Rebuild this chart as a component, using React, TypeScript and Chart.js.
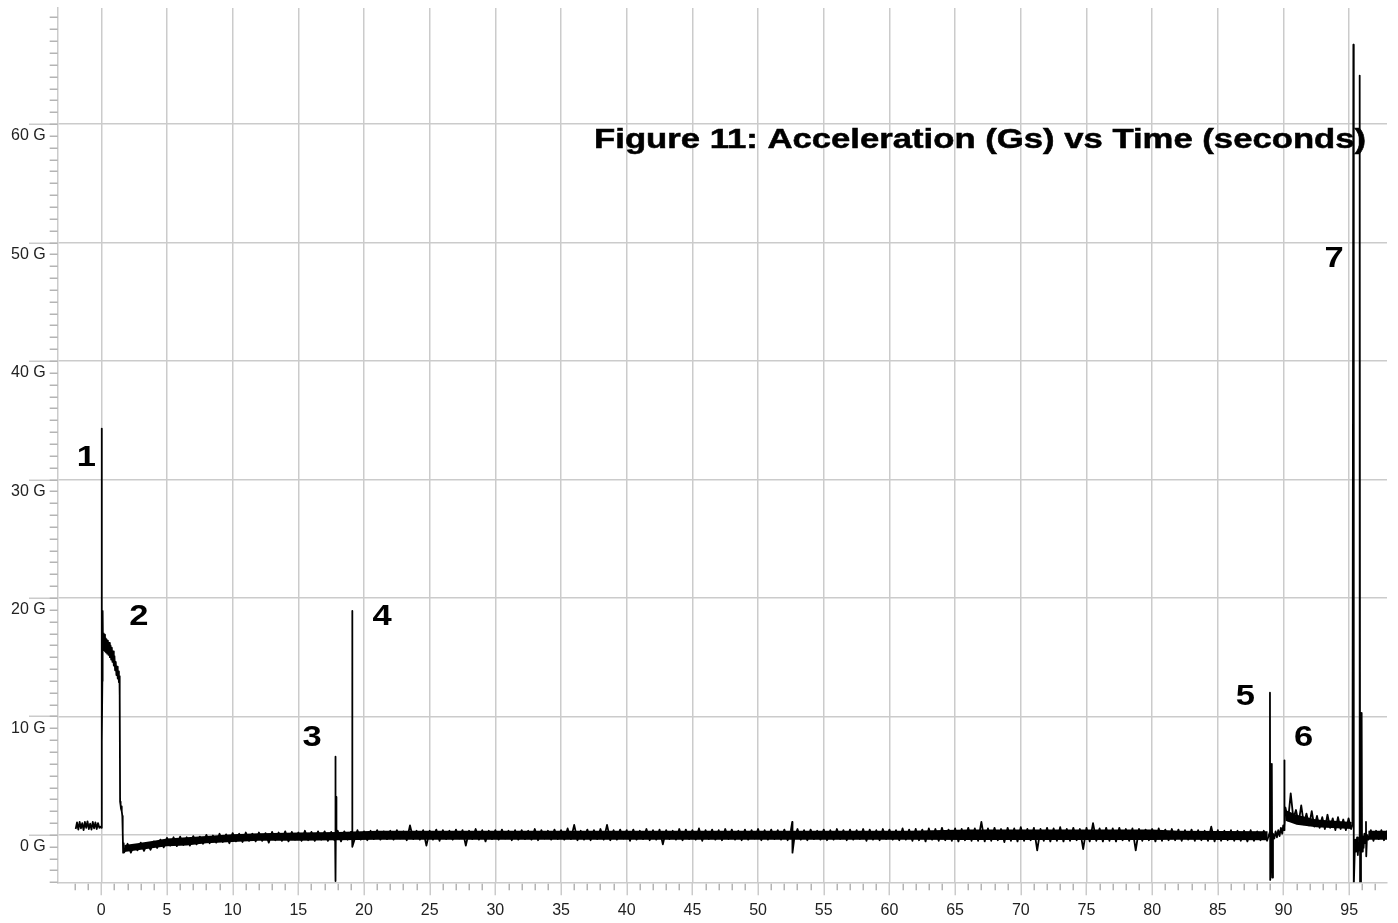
import React, { useEffect, useRef } from 'react';
import { Chart, registerables } from 'chart.js';

Chart.register(...registerables);

const FONT = "'Liberation Sans', Arial, Helvetica, sans-serif";
const GRID_COLOR = '#cbcbcb';
const TICK_COLOR = '#b4b4b4';
const LABEL_COLOR = '#222222';

// ---- axes -------------------------------------------------------------
const X_MIN = -3.32;
const X_MAX = 97.88;
const Y_MIN = -3.0;
const Y_MAX = 70.8;
const X_LABEL_STEP = 5;
const Y_LABEL_STEP = 10;
const Y_LABEL_MAX = 60;
const X_MINOR_FROM = -2;

// ---- data (time in seconds, acceleration in G) -------------------------
// pad, before launch (sampled every 0.1 s from -1.95 s)
const preLaunchStart = -1.95;
const preLaunchStep = 0.1;
const preLaunchG = [
  1.5, 2.05, 1.45, 2.1, 1.55, 2.0, 1.4, 2.1, 1.6, 2.15,
  1.5, 1.95, 1.45, 2.1, 1.55, 2.05, 1.5, 2.0, 1.6, 1.7,
];

// launch spike (1) and motor burn (2)
const burnT = [
  0.0, 0.02, 0.05, 0.08, 0.1, 0.13, 0.16, 0.2, 0.24, 0.28,
  0.32, 0.36, 0.4, 0.45, 0.5, 0.55, 0.6, 0.65, 0.7, 0.75,
  0.8, 0.85, 0.9, 0.95, 1.0, 1.05, 1.1, 1.15, 1.2, 1.25,
  1.3, 1.34, 1.38, 1.4, 1.43, 1.47, 1.5, 1.54, 1.57, 1.6,
  1.63, 1.66, 1.7,
];
const burnG = [
  1.6, 35.3, 8.9, 14.0, 19.9, 16.6, 18.0, 16.8, 17.9, 16.5,
  17.6, 16.4, 17.5, 16.3, 17.4, 16.2, 17.2, 16.0, 17.0, 15.8,
  16.8, 15.6, 16.5, 15.3, 16.1, 14.9, 15.6, 14.5, 15.2, 14.2,
  14.8, 13.9, 14.4, 12.8, 3.8, 3.5, 3.2, 3.4, 3.0, 2.6,
  1.2, -0.5, 0.3,
];

// coast and descent (sampled every 0.25 s from 1.75 s)
const coastStart = 1.75;
const coastStep = 0.25;
const coastG = [
  -0.45, 0.25, -0.5, 0.15, -0.3, 0.35, -0.35, 0.3, -0.25, 0.45, -0.1, 0.6, -0.05, 0.75, 0.1, 0.8, 0.05, 0.85, 0.15, 0.8,
  0.1, 0.9, 0.2, 0.85, 0.25, 1.0, 0.3, 0.95, 0.35, 1.1, 0.4, 1.05, 0.3, 1.15, 0.45, 1.1, 0.4, 1.2, 0.5, 1.1,
  0.45, 1.2, 0.5, 1.15, 0.35, 1.25, 0.55, 1.2, 0.5, 1.3, 0.45, 1.25, 0.6, 1.2, 0.5, 1.35, 0.55, 1.25, 0.5, 1.3,
  0.6, 1.3, 0.5, 1.25, 0.55, 1.35, 0.45, 1.3, 0.6, 1.25, 0.5, 1.4, 0.6, 1.3, 0.55, 1.35, 0.65, 1.4, 0.6, 1.3,
  0.65, 1.35, 0.6, 1.4, 0.7, 1.3, 0.55, 1.8, 0.65, 1.35, 0.6, 1.4, 0.1, 1.35, 0.6, 1.45, 0.5, 1.4, 0.65, 1.35,
  0.6, 1.45, 0.7, 1.4, 0.1, 1.35, 0.65, 1.5, 0.6, 1.4, 0.45, 1.35, 0.65, 1.4, 0.6, 1.45, 0.7, 1.35, 0.55, 1.4,
  0.6, 1.4, 0.65, 1.35, 0.6, 1.5, 0.55, 1.4, 0.7, 1.35, 0.6, 1.45, 0.65, 1.4, 0.6, 1.55, 0.65, 1.85, 0.55, 1.35,
  0.6, 1.45, 0.55, 1.4, 0.65, 1.5, 0.6, 1.85, 0.55, 1.4, 0.6, 1.45, 0.7, 1.4, 0.5, 1.45, 0.6, 1.35, 0.65, 1.5,
  0.55, 1.4, 0.6, 1.45, 0.2, 1.4, 0.65, 1.35, 0.6, 1.5, 0.55, 1.45, 0.65, 1.4, 0.6, 1.55, 0.5, 1.4, 0.65, 1.45,
  0.6, 1.4, 0.55, 1.5, 0.65, 1.45, 0.6, 1.35, 0.55, 1.45, 0.6, 1.4, 0.7, 1.5, 0.55, 1.4, 0.6, 1.45, 0.65, 1.4,
  0.6, 1.45, 0.55, 1.4, 0.65, 1.5, 0.6, 1.4, 0.55, 1.45, 0.65, 1.35, 0.6, 1.45, 0.55, 1.4, 0.6, 1.5, 0.65, 1.4,
  0.55, 1.45, 0.6, 1.4, 0.65, 1.5, 0.5, 1.45, 0.6, 1.4, 0.55, 1.5, 0.65, 1.45, 0.6, 1.4, 0.55, 1.55, 0.6, 1.45,
  0.5, 1.5, 0.55, 1.45, 0.45, 1.55, 0.6, 1.5, 0.5, 1.6, 0.55, 1.45, 0.5, 1.55, 0.45, 1.5, 0.55, 1.6, 0.5, 1.55,
  0.5, 2.1, 0.45, 1.55, 0.5, 1.6, 0.55, 1.5, 0.4, 1.6, 0.5, 1.55, 0.45, 1.65, 0.5, 1.5, 0.55, 1.6, -0.3, 1.5,
  0.5, 1.6, 0.45, 1.55, 0.5, 1.65, 0.45, 1.5, 0.5, 1.6, 0.55, 1.5, -0.2, 1.6, 0.45, 2.0, 0.5, 1.55, 0.45, 1.6,
  0.5, 1.55, 0.45, 1.6, 0.55, 1.5, 0.5, 1.55, -0.3, 1.5, 0.5, 1.45, 0.55, 1.5, 0.45, 1.55, 0.5, 1.45, 0.55, 1.5,
  0.55, 1.45, 0.5, 1.4, 0.6, 1.45, 0.5, 1.4, 0.55, 1.35, 0.5, 1.7, 0.45, 1.4, 0.5, 1.35, 0.55, 1.4, 0.5, 1.35,
  0.5, 1.35, 0.45, 1.4, 0.5, 1.3, 0.55, 1.35, 0.5,
];

// dense core of the noise band (the part that is solid black), null = no band
const coreT = [
  1.75, 2.75, 4.0, 5.0, 6.5, 8.0, 10.0, 12.0, 15.0, 18.0,
  21.0, 61.5, 66.0, 80.0, 82.0, 88.8, 89.5, 90.15, 91.0, 92.5,
  95.2, 95.8, 96.45, 98.1,
];
const coreLowG = [
  -0.45, -0.3, -0.1, 0.05, 0.1, 0.3, 0.4, 0.5, 0.5, 0.55,
  0.6, 0.6, 0.57, 0.57, 0.6, 0.55, null, 2.2, 1.85, 1.65,
  1.5, null, 0.6, 0.6,
];
const coreHighG = [
  0.15, 0.3, 0.5, 0.7, 0.8, 0.9, 1.05, 1.15, 1.2, 1.25,
  1.35, 1.35, 1.45, 1.45, 1.35, 1.3, null, 3.1, 2.7, 2.3,
  2.1, null, 1.35, 1.35,
];

// isolated spikes during the flight (3, 4, a small one, 5, 6)
const spikeT = [
  17.8, 17.82, 17.84, 17.87, 17.9,
  19.09, 19.1, 19.12,
  52.6, 52.62,
  88.95, 88.97, 88.99, 89.05, 89.1, 89.12, 89.14, 89.2,
  89.3, 89.4, 89.5, 89.6, 89.7, 89.8, 89.9, 89.98, 90.04, 90.06, 90.09,
];
const spikeG = [
  0.9, 7.6, -2.9, 4.2, 0.7,
  1.0, 19.9, 0.0,
  2.1, -0.5,
  1.2, 13.0, -2.8, 0.6, 1.2, 7.0, -2.6, 1.1,
  0.7, 1.3, 0.8, 1.4, 0.9, 1.6, 1.1, 1.8, 1.4, 7.3, 1.6,
];

// after the event at 6 (sampled every 0.2 s from 90.15 s)
const recoveryStart = 90.15;
const recoveryStep = 0.2;
const recoveryG = [
  3.3, 2.2, 4.5, 2.4, 3.1, 2.0, 3.5, 1.9, 2.8, 1.8,
  3.0, 1.7, 2.6, 1.6, 2.5, 1.5, 2.7, 1.6, 2.4, 1.4,
  2.5, 1.5, 2.3, 1.4, 2.4, 1.5,
];

// landing impacts (7)
const landingT = [
  95.25, 95.32, 95.35, 95.42, 95.48, 95.54, 95.6, 95.66, 95.72, 95.78,
  95.8, 95.83, 95.9, 95.95, 95.98, 96.04, 96.1, 96.16, 96.22, 96.28,
  96.3, 96.36,
];
const landingG = [
  1.9, 67.7, -3.4, -0.6, 0.6, -0.4, 0.8, -0.7, 0.3, -0.3,
  65.1, -3.4, -0.4, 11.3, -0.4, 0.9, -0.1, 1.1, 0.3, 2.1,
  -0.8, 1.0,
];

// on the ground (sampled every 0.2 s from 96.45 s)
const groundStart = 96.45;
const groundStep = 0.2;
const groundG = [0.6, 1.4, 0.5, 1.35, 0.65, 1.4, 0.55, 1.3, 0.9];

// numbered event labels
const markerText = ['1', '2', '3', '4', '5', '6', '7'];
const markerT = [-1.14, 2.85, 16.04, 21.37, 87.1, 91.53, 93.85];
const markerG = [32.8, 19.38, 9.21, 19.38, 12.66, 9.21, 49.65];

const titleText = 'Figure 11: Acceleration (Gs) vs Time (seconds)';
const titleT = 66.9;
const titleG = 58.95;

// ---- styles ----------------------------------------------------------
const MARKER_FONT_SIZE = 30;
const MARKER_STRETCH = 1.15;
const TITLE_FONT_SIZE = 27;
const TITLE_WIDTH = 772;

function buildPoints() {
  const pts: { x: number; y: number }[] = [];
  preLaunchG.forEach((g, i) => pts.push({ x: preLaunchStart + i * preLaunchStep, y: g }));
  burnT.forEach((t, i) => pts.push({ x: t, y: burnG[i] }));
  coastG.forEach((g, i) => pts.push({ x: coastStart + i * coastStep, y: g }));
  spikeT.forEach((t, i) => pts.push({ x: t, y: spikeG[i] }));
  recoveryG.forEach((g, i) => pts.push({ x: recoveryStart + i * recoveryStep, y: g }));
  landingT.forEach((t, i) => pts.push({ x: t, y: landingG[i] }));
  groundG.forEach((g, i) => pts.push({ x: groundStart + i * groundStep, y: g }));
  pts.sort((a, b) => a.x - b.x);
  return pts;
}

const isMult = (v: number, m: number) => Math.abs(v / m - Math.round(v / m)) < 1e-6;

const axisMarks = {
  id: 'axisMarks',
  afterDraw(chart: any) {
    const { ctx, chartArea: a, scales } = chart;
    const x = scales.x;
    const y = scales.y;
    ctx.save();
    ctx.lineWidth = 1.5;
    const seg = (x1: number, y1: number, x2: number, y2: number, c: string) => {
      ctx.strokeStyle = c;
      ctx.beginPath();
      ctx.moveTo(x1, y1);
      ctx.lineTo(x2, y2);
      ctx.stroke();
    };
    y.ticks.forEach((t: any) => {
      const py = Math.round(y.getPixelForValue(t.value)) + 0.25;
      if (isMult(t.value - 1, Y_LABEL_STEP)) seg(29, py, a.left, py, GRID_COLOR);
      seg(a.left - 8, py, a.left, py, TICK_COLOR);
    });
    x.ticks.forEach((t: any) => {
      if (t.value < X_MINOR_FROM) return;
      const px = Math.round(x.getPixelForValue(t.value)) + 0.25;
      if (isMult(t.value, X_LABEL_STEP)) seg(px, a.bottom, px, a.bottom + 13, GRID_COLOR);
      else seg(px, a.bottom + 1.5, px, a.bottom + 8, TICK_COLOR);
    });
    ctx.restore();
  },
};

const annotations = {
  id: 'annotations',
  afterDatasetsDraw(chart: any) {
    const { ctx, scales } = chart;
    const x = scales.x;
    const y = scales.y;
    ctx.save();
    ctx.fillStyle = '#000';
    ctx.strokeStyle = '#000';
    ctx.font = `bold ${MARKER_FONT_SIZE}px ${FONT}`;
    ctx.textAlign = 'center';
    ctx.textBaseline = 'middle';
    markerText.forEach((s, i) => {
      ctx.save();
      ctx.translate(x.getPixelForValue(markerT[i]), y.getPixelForValue(markerG[i]));
      ctx.scale(MARKER_STRETCH, 1);
      ctx.fillText(s, 0, 0);
      ctx.restore();
    });
    ctx.font = `bold ${TITLE_FONT_SIZE}px ${FONT}`;
    ctx.textBaseline = 'alphabetic';
    const w = ctx.measureText(titleText).width;
    ctx.translate(x.getPixelForValue(titleT), y.getPixelForValue(titleG));
    ctx.scale(TITLE_WIDTH / w, 1);
    ctx.lineWidth = 0.5;
    ctx.fillText(titleText, 0, 0);
    ctx.strokeText(titleText, 0, 0);
    ctx.restore();
  },
};

export default function App() {
  const ref = useRef<HTMLCanvasElement>(null);
  useEffect(() => {
    if (!ref.current) return;
    const coreHigh = coreT.map((t, i) => ({ x: t, y: coreHighG[i] }));
    const coreLow = coreT.map((t, i) => ({ x: t, y: coreLowG[i] }));
    const chart = new Chart(ref.current, {
      type: 'line',
      data: {
        datasets: [
          {
            label: 'Acceleration',
            data: buildPoints(),
            borderColor: '#000000',
            borderWidth: 1.8,
            borderJoinStyle: 'round',
            pointRadius: 0,
            fill: false,
            tension: 0,
          },
          {
            label: 'band top',
            data: coreHigh as any,
            borderWidth: 0,
            borderColor: 'rgba(0,0,0,0)',
            pointRadius: 0,
            fill: false,
            spanGaps: false,
          },
          {
            label: 'band bottom',
            data: coreLow as any,
            borderWidth: 0,
            borderColor: 'rgba(0,0,0,0)',
            backgroundColor: '#000000',
            pointRadius: 0,
            fill: '-1',
            spanGaps: false,
          },
        ],
      },
      options: {
        responsive: false,
        maintainAspectRatio: false,
        animation: false,
        events: [],
        layout: { padding: { top: 8, right: 11, bottom: 0, left: 0 } },
        plugins: {
          legend: { display: false },
          tooltip: { enabled: false },
          title: { display: false },
        },
        scales: {
          x: {
            type: 'linear',
            min: X_MIN,
            max: X_MAX,
            border: { display: true, color: GRID_COLOR, width: 1.5 },
            grid: {
              drawTicks: false,
              lineWidth: 1.5,
              color: (c: any) =>
                c.tick && c.tick.value >= 0 && isMult(c.tick.value, X_LABEL_STEP) ? GRID_COLOR : 'rgba(0,0,0,0)',
            },
            ticks: {
              stepSize: 1,
              autoSkip: false,
              includeBounds: false,
              maxRotation: 0,
              minRotation: 0,
              padding: 19,
              color: LABEL_COLOR,
              font: { family: FONT, size: 16 },
              callback: (v: any) => (v >= 0 && isMult(v, X_LABEL_STEP) ? String(Math.round(v)) : ''),
            },
            afterFit: (s: any) => {
              s.height = 40.7;
              s.paddingLeft = 0;
              s.paddingRight = 0;
            },
          },
          y: {
            type: 'linear',
            min: Y_MIN,
            max: Y_MAX,
            border: { display: true, color: GRID_COLOR, width: 1.5 },
            grid: {
              drawTicks: false,
              lineWidth: 1.5,
              color: (c: any) => (c.tick && isMult(c.tick.value - 1, Y_LABEL_STEP) ? GRID_COLOR : 'rgba(0,0,0,0)'),
            },
            ticks: {
              stepSize: 1,
              autoSkip: false,
              includeBounds: false,
              padding: 12,
              color: LABEL_COLOR,
              font: { family: FONT, size: 16 },
              callback: (v: any) =>
                v >= 0 && v <= Y_LABEL_MAX && isMult(v, Y_LABEL_STEP) ? `${Math.round(v)} G` : '',
            },
            afterFit: (s: any) => {
              s.width = 57.7;
              s.paddingTop = 0;
              s.paddingBottom = 0;
            },
          },
        },
      },
      plugins: [axisMarks, annotations],
    });
    return () => chart.destroy();
  }, []);
  return (
    <div style={{ position: 'fixed', left: 0, top: 0, width: 1398, height: 923, background: '#ffffff' }}>
      <canvas ref={ref} width={1398} height={923} style={{ display: 'block', width: 1398, height: 923 }} />
    </div>
  );
}
